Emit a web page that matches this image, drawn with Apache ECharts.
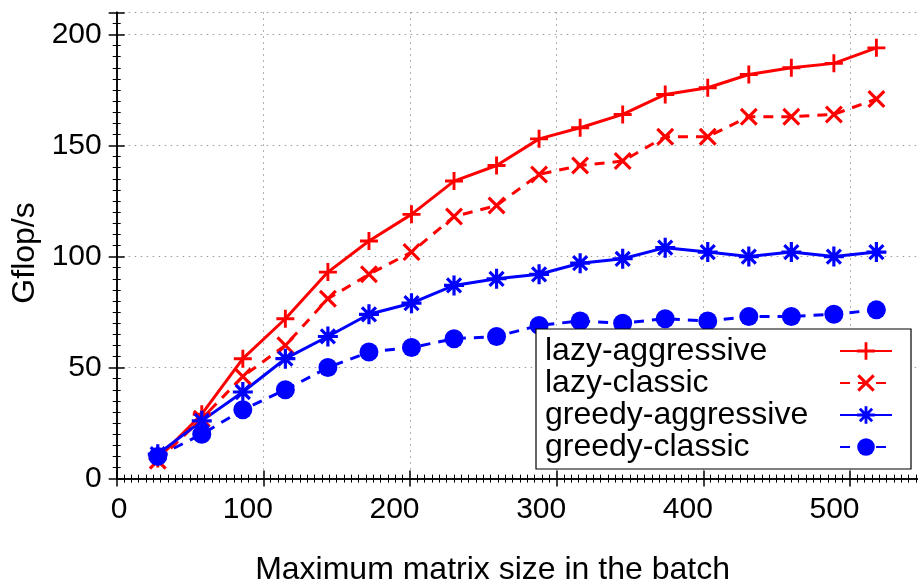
<!DOCTYPE html>
<html>
<head>
<meta charset="utf-8">
<script src="https://cdn.jsdelivr.net/npm/echarts@6/dist/echarts.min.js"></script>
<style>
html,body{margin:0;padding:0;background:#fff;}
#chart{width:918px;height:580px;}
</style>
</head>
<body>
<div id="chart"></div>
<script>
// ---- data ----
var xValues = [28, 58, 86, 115, 144, 172, 201, 230, 259, 288, 316, 345, 374, 403, 431, 460, 489, 518];
var lazyAggressive   = [9, 29, 54, 72, 93, 107, 119, 134, 141, 153, 158, 164, 173, 176, 182, 185, 187, 194];
var lazyClassic      = [8, 27, 46, 60, 81, 92, 102, 118, 123, 137, 141, 143, 154, 154, 163, 163, 164, 171];
var greedyAggressive = [11, 26, 39, 54, 64, 74, 79, 87, 90, 92, 97, 99, 104, 102, 100, 102, 100, 102];
var greedyClassic    = [10, 20, 31, 40, 50, 57, 59, 63, 64, 69, 71, 70, 72, 71, 73, 73, 74, 76];
var seriesNames = ['lazy-aggressive', 'lazy-classic', 'greedy-aggressive', 'greedy-classic'];
var xTicks = [0, 100, 200, 300, 400, 500];
var yTicks = [0, 50, 100, 150, 200];
var xTitle = 'Maximum matrix size in the batch';
var yTitle = 'Gflop/s';

var FONT = "'Liberation Sans', Helvetica, Arial, sans-serif";
var RED = '#ff0000', BLUE = '#0000ff';

var PLUS = 'path://M0,42H100V58H0Z M42,0H58V100H42Z';
var CROSS = 'path://M15.66,4.34L95.66,84.34L84.34,95.66L4.34,15.66Z M95.66,15.66L15.66,95.66L4.34,84.34L84.34,4.34Z';
var STAR = 'path://M0,42H100V58H0Z M42,0H58V100H42Z M20.66,9.34L90.66,79.34L79.34,90.66L9.34,20.66Z M90.66,20.66L20.66,90.66L9.34,79.34L79.34,9.34Z';

function pairs(ys) { return xValues.map(function (x, i) { return [x, ys[i]]; }); }

function mkSeries(name, ys, color, dashed, symbol, size) {
  return {
    name: name, type: 'line', data: pairs(ys),
    symbol: symbol, symbolSize: size, symbolKeepAspect: true,
    showAllSymbol: true,
    lineStyle: { color: color, width: 3, type: dashed ? [10, 8] : 'solid' },
    itemStyle: { color: color },
    emphasis: { disabled: true },
    animation: false, z: 3
  };
}

var chart = echarts.init(document.getElementById('chart'), null, { renderer: 'canvas' });

var axisLineStyle = { show: true, lineStyle: { color: '#000', width: 1.5 } };
var gridLine = { show: true, lineStyle: { color: '#999', width: 1, type: [1.5, 4.5] } };

var option = {
  backgroundColor: '#fff',
  animation: false,
  textStyle: { fontFamily: FONT },
  grid: { left: 116.7, right: -2.4, top: 12.3, bottom: 101.4, containLabel: false, outerBoundsMode: 'none' },
  legend: {
    orient: 'vertical', left: 536, top: 329, align: 'right',
    itemWidth: 52, itemHeight: 22, itemGap: 0,
    padding: [6, 18, 6, 9],
    borderColor: '#000', borderWidth: 1.2, backgroundColor: '#fff',
    data: seriesNames,
    formatter: function (n) { return '{t|' + n + '}'; },
    textStyle: {
      fontFamily: FONT, fontSize: 32, color: '#000',
      rich: { t: { width: 290, align: 'left', fontSize: 32, lineHeight: 32, fontFamily: FONT, color: '#000' } }
    },
    selectedMode: false, z: 10
  },
  xAxis: [{
    type: 'value', position: 'bottom', min: 0, max: 548, interval: 100,
    axisLine: axisLineStyle,
    axisTick: { show: true, inside: true, length: 8, lineStyle: { color: '#000', width: 1.5 } },
    minorTick: { show: true, splitNumber: 20, length: 4, lineStyle: { color: '#000', width: 1 } },
    splitLine: gridLine,
    name: xTitle, nameLocation: 'middle', nameGap: 76,
    nameTextStyle: { fontFamily: FONT, fontSize: 32, color: '#000', padding: [0, 52, 0, 0] },
    axisLabel: {
      show: true, margin: 16,
      customValues: xTicks,
      formatter: function (v) { return v === 0 ? '{z|0}' : '{a|' + v + '}'; },
      rich: {
        a: { fontFamily: FONT, fontSize: 30, color: '#000', padding: [0, 31, 0, 0] },
        z: { fontFamily: FONT, fontSize: 30, color: '#000', padding: [0, 0, 0, 5] }
      }
    }
  }, {
    type: 'value', position: 'top', min: 0, max: 548, interval: 100,
    axisLine: axisLineStyle,
    axisTick: { show: true, inside: true, length: 8, lineStyle: { color: '#000', width: 1.5 } },
    minorTick: { show: true, splitNumber: 20, length: 4, lineStyle: { color: '#000', width: 1 } },
    splitLine: { show: false }, axisLabel: { show: false }
  }],
  yAxis: [{
    type: 'value', position: 'left', min: 0, max: 210, interval: 50,
    axisLine: axisLineStyle,
    axisTick: { show: true, inside: true, length: 8, lineStyle: { color: '#000', width: 1.5 } },
    minorTick: { show: true, splitNumber: 10, length: 4, lineStyle: { color: '#000', width: 1 } },
    splitLine: gridLine,
    name: yTitle, nameLocation: 'middle', nameGap: 71, nameRotate: 90,
    nameTextStyle: { fontFamily: FONT, fontSize: 32, color: '#000', padding: [0, 15, 0, 0] },
    axisLabel: {
      show: true, margin: 15,
      customValues: yTicks,
      fontFamily: FONT, fontSize: 30, color: '#000'
    }
  }, {
    type: 'value', position: 'right', min: 0, max: 210, interval: 50,
    axisLine: axisLineStyle,
    axisTick: { show: true, inside: true, length: 8, lineStyle: { color: '#000', width: 1.5 } },
    minorTick: { show: true, splitNumber: 10, length: 4, lineStyle: { color: '#000', width: 1 } },
    splitLine: { show: false }, axisLabel: { show: false }
  }],
  series: [
    mkSeries(seriesNames[0], lazyAggressive, RED, false, PLUS, 18),
    mkSeries(seriesNames[1], lazyClassic, RED, true, CROSS, 18),
    mkSeries(seriesNames[2], greedyAggressive, BLUE, false, STAR, 20),
    mkSeries(seriesNames[3], greedyClassic, BLUE, true, 'circle', 19)
  ]
};
chart.setOption(option);
</script>
</body>
</html>
